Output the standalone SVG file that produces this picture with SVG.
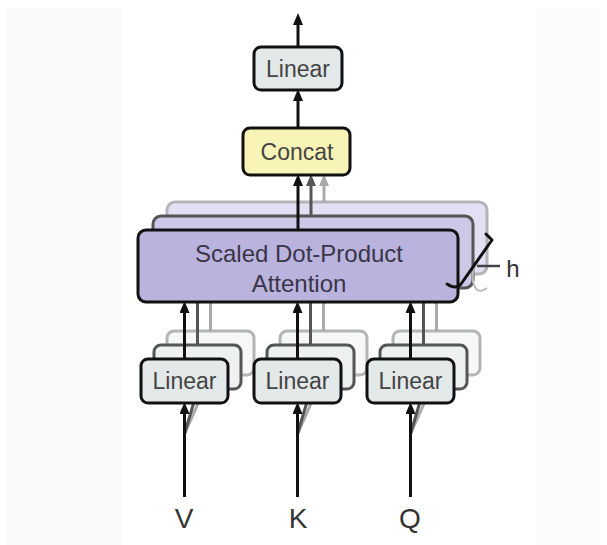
<svg xmlns="http://www.w3.org/2000/svg" width="607" height="545" viewBox="0 0 607 545">
<defs>
<style>
text{font-family:"Liberation Sans",Arial,sans-serif;text-anchor:middle}
.lbl{font-size:23px;fill:#444}
.att{font-size:24px;fill:#3a3548}
.io{font-size:28px;fill:#333}
.lin-f{fill:#e3e8e8;stroke:#111;stroke-width:3}
.lin-m{fill:#eef1f1;stroke:#555;stroke-width:3}
.lin-b{fill:#f6f7f7;stroke:#b4b4b4;stroke-width:3}
.at-f{fill:#b9b3de;stroke:#111;stroke-width:3}
.at-m{fill:#cdc8e8;stroke:#555;stroke-width:3}
.at-b{fill:#e2e0f2;stroke:#b4b4b8;stroke-width:3}
.a-f{stroke:#111;stroke-width:3;fill:none;marker-end:url(#hf)}
.a-m{stroke:#555;stroke-width:3;fill:none;marker-end:url(#hm)}
.a-b{stroke:#aaa;stroke-width:3;fill:none;marker-end:url(#hb)}
</style>
<marker id="hf" viewBox="0 0 12 10" refX="5" refY="5" markerWidth="12" markerHeight="10" markerUnits="userSpaceOnUse" orient="auto"><path d="M0,0 L12,5 L0,10 z" fill="#111"/></marker>
<marker id="hm" viewBox="0 0 12 10" refX="5" refY="5" markerWidth="12" markerHeight="10" markerUnits="userSpaceOnUse" orient="auto"><path d="M0,0 L12,5 L0,10 z" fill="#555"/></marker>
<marker id="hb" viewBox="0 0 12 10" refX="5" refY="5" markerWidth="12" markerHeight="10" markerUnits="userSpaceOnUse" orient="auto"><path d="M0,0 L12,5 L0,10 z" fill="#aaa"/></marker>
</defs>
<rect width="607" height="545" fill="#ffffff"/>
<rect x="7" y="8" width="115" height="537" fill="#fafafa"/>
<rect x="537" y="8" width="63" height="537" fill="#fbfbfb"/>

<!-- back layers -->
<g id="back-layers">
<rect class="at-b" x="167" y="202" width="320" height="72" rx="8"/>
<rect class="lin-b" x="167" y="331" width="87" height="44" rx="7"/>
<rect class="lin-b" x="280" y="331" width="87" height="44" rx="7"/>
<rect class="lin-b" x="393" y="331" width="87" height="44" rx="7"/>
</g>
<g id="back-connectors">
<line class="a-b" x1="324" y1="202" x2="324" y2="181"/>
<line class="a-b" x1="210.5" y1="331" x2="210.5" y2="280"/>
<line class="a-b" x1="323.5" y1="331" x2="323.5" y2="280"/>
<line class="a-b" x1="436.5" y1="331" x2="436.5" y2="280"/>
<line class="a-b" x1="184.5" y1="434" x2="208" y2="381"/>
<line class="a-b" x1="297.5" y1="434" x2="321" y2="381"/>
<line class="a-b" x1="410.5" y1="434" x2="434" y2="381"/>
</g>

<!-- middle layers -->
<g id="middle-layers">
<rect class="at-m" x="153" y="216" width="320" height="72" rx="8"/>
<rect class="lin-m" x="154" y="345" width="87" height="44" rx="7"/>
<rect class="lin-m" x="267" y="345" width="87" height="44" rx="7"/>
<rect class="lin-m" x="380" y="345" width="87" height="44" rx="7"/>
</g>
<g id="middle-connectors">
<line class="a-m" x1="311" y1="216" x2="311" y2="181"/>
<line class="a-m" x1="197.5" y1="345" x2="197.5" y2="294"/>
<line class="a-m" x1="310.5" y1="345" x2="310.5" y2="294"/>
<line class="a-m" x1="423.5" y1="345" x2="423.5" y2="294"/>
<line class="a-m" x1="184.5" y1="434" x2="196" y2="395"/>
<line class="a-m" x1="297.5" y1="434" x2="309" y2="395"/>
<line class="a-m" x1="410.5" y1="434" x2="422" y2="395"/>
</g>

<!-- front nodes -->
<g id="linear-out">
<rect class="lin-f" x="254" y="47" width="88" height="43" rx="7"/>
<text class="lbl" x="298" y="77">Linear</text>
</g>
<g id="concat">
<rect x="243" y="128" width="107" height="47" rx="7" fill="#f8f4b8" stroke="#111" stroke-width="3"/>
<text class="lbl" x="297" y="160">Concat</text>
</g>
<g id="attention">
<rect class="at-f" x="138" y="230" width="320" height="72" rx="8"/>
<text class="att" x="299" y="262">Scaled Dot-Product</text>
<text class="att" x="299" y="292">Attention</text>
</g>
<g id="linear-v">
<rect class="lin-f" x="141" y="359" width="87" height="44" rx="7"/>
<text class="lbl" x="184.5" y="389">Linear</text>
</g>
<g id="linear-k">
<rect class="lin-f" x="254" y="359" width="87" height="44" rx="7"/>
<text class="lbl" x="297.5" y="389">Linear</text>
</g>
<g id="linear-q">
<rect class="lin-f" x="367" y="359" width="87" height="44" rx="7"/>
<text class="lbl" x="410.5" y="389">Linear</text>
</g>
<g id="inputs">
<text class="io" x="184" y="528">V</text>
<text class="io" x="298" y="528">K</text>
<text class="io" x="410" y="528">Q</text>
</g>
<g id="heads-label">
<path d="M479 258 Q468 276 476 289 Q481 293 487 288" fill="none" stroke="#bbb" stroke-width="2"/>
<line x1="477" y1="266" x2="500" y2="266" stroke="#444" stroke-width="2.5"/>
<path d="M486 234 L492 240 L461 284 Q456 290 447 284" fill="none" stroke="#111" stroke-width="3" stroke-linejoin="round" stroke-linecap="round"/>
<text x="513" y="277" style="font-size:24px;fill:#333">h</text>
</g>

<!-- front connectors -->
<g id="connectors">
<line class="a-f" x1="298" y1="47" x2="298" y2="20"/>
<line class="a-f" x1="298" y1="128" x2="298" y2="96"/>
<line class="a-f" x1="298" y1="230" x2="298" y2="181"/>
<line class="a-f" x1="184.5" y1="359" x2="184.5" y2="308"/>
<line class="a-f" x1="297.5" y1="359" x2="297.5" y2="308"/>
<line class="a-f" x1="410.5" y1="359" x2="410.5" y2="308"/>
<line class="a-f" x1="184.5" y1="497" x2="184.5" y2="409"/>
<line class="a-f" x1="297.5" y1="497" x2="297.5" y2="409"/>
<line class="a-f" x1="410.5" y1="497" x2="410.5" y2="409"/>
</g>
</svg>
